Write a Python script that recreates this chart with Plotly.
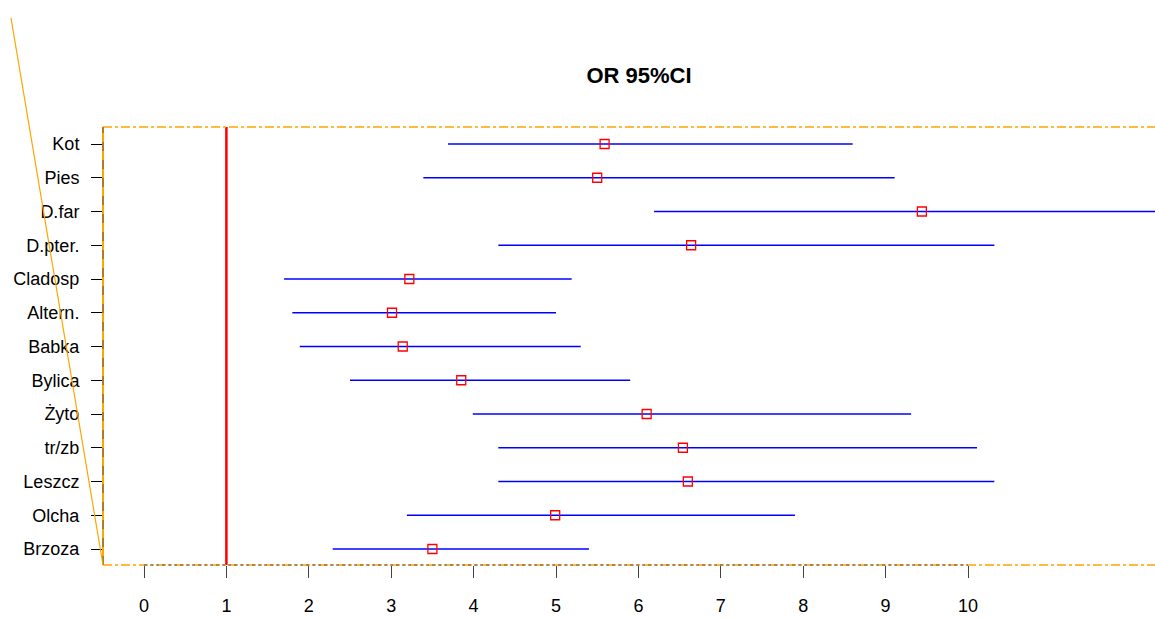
import plotly.graph_objects as go

categories = ["Kot", "Pies", "D.far", "D.pter.", "Cladosp", "Altern.", "Babka",
              "Bylica", "Żyto", "tr/zb", "Leszcz", "Olcha", "Brzoza"]
or_values = [5.59, 5.50, 9.44, 6.64, 3.22, 3.01, 3.14, 3.85, 6.10, 6.54, 6.60, 4.99, 3.50]
ci_lower = [3.69, 3.39, 6.19, 4.30, 1.70, 1.80, 1.89, 2.50, 3.99, 4.30, 4.30, 3.19, 2.29]
ci_upper = [8.60, 9.11, 14.50, 10.32, 5.19, 5.00, 5.30, 5.90, 9.31, 10.11, 10.32, 7.90, 5.40]
x_ticks = [0, 1, 2, 3, 4, 5, 6, 7, 8, 9, 10]

n = len(categories)
ypos = [n - i for i in range(n)]

seg_x, seg_y = [], []
for lo, hi, y in zip(ci_lower, ci_upper, ypos):
    seg_x += [lo, hi, None]
    seg_y += [y, y, None]

fig = go.Figure()
fig.add_trace(go.Scatter(x=seg_x, y=seg_y, mode="lines",
                         line=dict(color="#0000ff", width=1.5),
                         hoverinfo="skip", showlegend=False))
fig.add_trace(go.Scatter(x=or_values, y=ypos, mode="markers",
                         marker=dict(symbol="square-open", color="#ff0000", size=9,
                                     line=dict(width=1.3)),
                         text=categories, showlegend=False))

W, H = 1155, 618
ML, MT, MB = 103, 127, 53
PW, PH = W - ML, H - MT - MB

orange = "#ffa500"
shapes = [
    dict(type="line", xref="x", yref="paper", x0=1, x1=1, y0=0, y1=1,
         line=dict(color="#ff0000", width=2.5)),
    dict(type="line", xref="paper", yref="paper", x0=0, x1=1, y0=1, y1=1,
         line=dict(color=orange, width=1.5, dash="dashdot")),
    dict(type="line", xref="paper", yref="paper", x0=0, x1=1, y0=0, y1=0,
         line=dict(color=orange, width=1.5, dash="dashdot")),
    dict(type="line", xref="paper", yref="paper", x0=0, x1=0, y0=0, y1=1,
         line=dict(color=orange, width=2)),
    dict(type="line", xref="paper", yref="paper", x0=0, x1=0, y0=0, y1=1,
         line=dict(color="#555555", width=1, dash="dash")),
    dict(type="line", xref="x", yref="paper", x0=x_ticks[0], x1=x_ticks[-1], y0=0, y1=0,
         line=dict(color="#555555", width=1, dash="dot")),
    dict(type="line", xref="paper", yref="paper",
         x0=(11 - ML) / PW, y0=(H - MB - 18) / PH, x1=0, y1=0,
         line=dict(color=orange, width=1.2)),
]

fig.update_layout(
    width=W, height=H,
    margin=dict(l=ML, r=0, t=MT, b=MB),
    paper_bgcolor="white", plot_bgcolor="white",
    font=dict(family="Liberation Sans, Arial, sans-serif", size=18, color="black"),
    title=dict(text="<b>OR 95%CI</b>", x=639 / W, xanchor="center",
               y=1 - 75 / H, yanchor="middle", font=dict(size=22)),
    shapes=shapes,
    xaxis=dict(range=[-41 / 82.4, 1011 / 82.4], tickvals=x_ticks,
               ticktext=[str(t) for t in x_ticks],
               ticks="outside", ticklen=12, tickcolor="#444444", tickwidth=1,
               showgrid=False, zeroline=False, showline=False,
               ticklabelstandoff=12, tickfont=dict(size=18)),
    yaxis=dict(range=[0.526, 13.504], tickvals=ypos, ticktext=categories,
               ticks="outside", ticklen=11, tickcolor="black", tickwidth=1,
               showgrid=False, zeroline=False, showline=False,
               ticklabelstandoff=8, tickfont=dict(size=18)),
)

fig.write_html("out.html", config={"displayModeBar": False},
               post_script="document.body.style.margin='0';document.body.style.overflow='hidden';")
